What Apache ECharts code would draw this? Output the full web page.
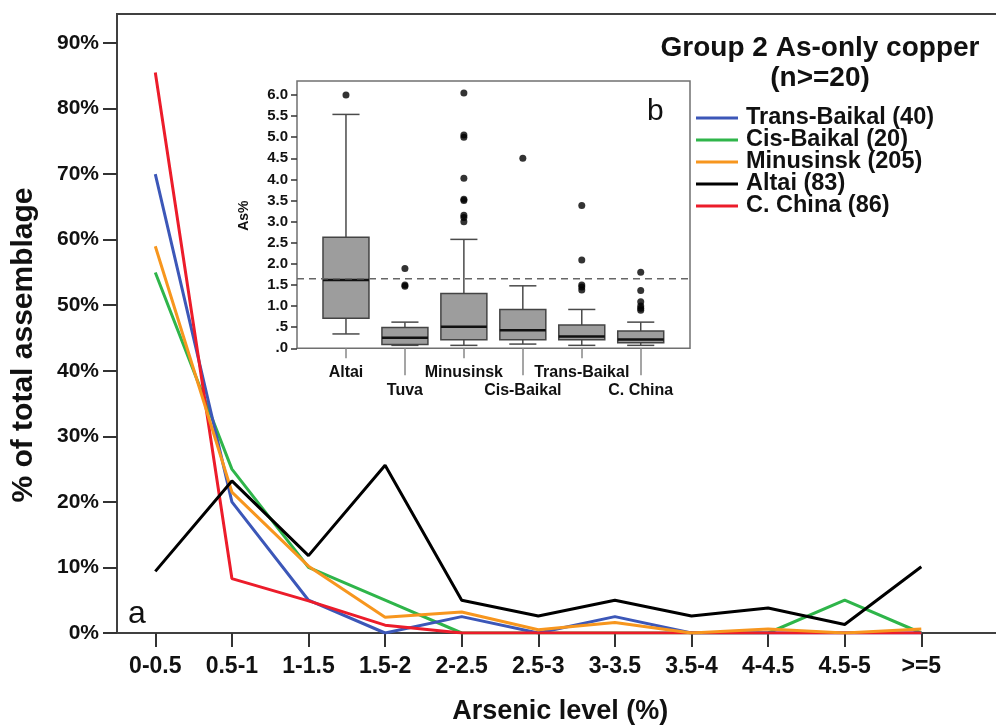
<!DOCTYPE html>
<html><head><meta charset="utf-8">
<script src="https://cdn.jsdelivr.net/npm/echarts@6/dist/echarts.min.js"></script>
<style>html,body{margin:0;padding:0;background:#fff}#c{width:996px;height:726px}</style>
</head><body><div id="c"></div>
<script>
// ---- main chart data (% of total assemblage) ----
const arsenicBins = ['0-0.5','0.5-1','1-1.5','1.5-2','2-2.5','2.5-3','3-3.5','3.5-4','4-4.5','4.5-5','>=5'];
const transBaikal = [70, 20, 5, 0, 2.5, 0, 2.5, 0, 0, 0, 0];
const cisBaikal   = [55, 25, 10, 5, 0, 0, 0, 0, 0, 5, 0];
const minusinsk   = [59.0, 21.5, 10.2, 2.4, 3.2, 0.5, 1.6, 0, 0.6, 0, 0.6];
const altai       = [9.4, 23.2, 11.8, 25.6, 5.0, 2.6, 5.0, 2.6, 3.8, 1.3, 10.1];
const cChina      = [85.5, 8.3, 4.9, 1.2, 0, 0, 0, 0, 0, 0, 0];
const seriesNames = ['Trans-Baikal (40)','Cis-Baikal (20)','Minusinsk (205)','Altai (83)','C. China (86)'];
const yTicksMain  = [0, 10, 20, 30, 40, 50, 60, 70, 80, 90];

// ---- inset box plot data (As%) ----
const boxGroups = ['Altai','Tuva','Minusinsk','Cis-Baikal','Trans-Baikal','C. China'];
const boxLow    = [0.34, 0.07, 0.07, 0.10, 0.07, 0.07];
const boxQ1     = [0.71, 0.09, 0.20, 0.20, 0.20, 0.13];
const boxMedian = [1.62, 0.25, 0.51, 0.43, 0.28, 0.21];
const boxQ3     = [2.63, 0.49, 1.30, 0.92, 0.55, 0.41];
const boxHigh   = [5.54, 0.62, 2.58, 1.48, 0.92, 0.62];
const boxOutliers = [
  [6.0],
  [1.89, 1.5, 1.47],
  [6.05, 5.05, 5.0, 4.03, 3.53, 3.5, 3.15, 3.1, 3.0],
  [4.5],
  [3.38, 2.09, 1.5, 1.45, 1.38],
  [1.8, 1.37, 1.1, 1.0, 0.95, 0.9]
];
const refLevel = 1.65;

const FONT = 'Liberation Sans, Arial, sans-serif';
const boxData = boxGroups.map((g, i) => [i, boxLow[i], boxQ1[i], boxMedian[i], boxQ3[i], boxHigh[i]]);
const outlierData = [];
boxOutliers.forEach((arr, i) => arr.forEach(v => outlierData.push([i, v])));

function renderBox(params, api) {
  const i = api.value(0);
  const pLo = api.coord([i, api.value(1)]);
  const pQ1 = api.coord([i, api.value(2)]);
  const pMed = api.coord([i, api.value(3)]);
  const pQ3 = api.coord([i, api.value(4)]);
  const pHi = api.coord([i, api.value(5)]);
  const band = api.size([1, 0])[0];
  const hw = band * 0.39, cw = band * 0.23, cx = pMed[0];
  const ls = {stroke: '#4a4a4a', lineWidth: 1.5};
  return {type: 'group', children: [
    {type: 'line', shape: {x1: cx, y1: pHi[1], x2: cx, y2: pQ3[1]}, style: ls},
    {type: 'line', shape: {x1: cx, y1: pQ1[1], x2: cx, y2: pLo[1]}, style: ls},
    {type: 'line', shape: {x1: cx - cw, y1: pHi[1], x2: cx + cw, y2: pHi[1]}, style: ls},
    {type: 'line', shape: {x1: cx - cw, y1: pLo[1], x2: cx + cw, y2: pLo[1]}, style: ls},
    {type: 'rect', shape: {x: cx - hw, y: pQ3[1], width: 2 * hw, height: pQ1[1] - pQ3[1]},
      style: {fill: '#9d9d9d', stroke: '#444', lineWidth: 1.5}},
    {type: 'line', shape: {x1: cx - hw, y1: pMed[1], x2: cx + hw, y2: pMed[1]}, style: {stroke: '#111', lineWidth: 2.5}}
  ]};
}

const chart = echarts.init(document.getElementById('c'), null, {renderer: 'canvas'});
const lineColors = {
  'Trans-Baikal (40)': '#3c57b8', 'Cis-Baikal (20)': '#2fb54a', 'Minusinsk (205)': '#f7961e',
  'Altai (83)': '#000000', 'C. China (86)': '#ec1c2a'
};
const seriesValues = {
  'Trans-Baikal (40)': transBaikal, 'Cis-Baikal (20)': cisBaikal, 'Minusinsk (205)': minusinsk,
  'Altai (83)': altai, 'C. China (86)': cChina
};
const drawOrder = ['Cis-Baikal (20)', 'Trans-Baikal (40)', 'C. China (86)', 'Minusinsk (205)', 'Altai (83)'];

const option = {
  backgroundColor: '#fff',
  animation: false,
  textStyle: {fontFamily: FONT},
  grid: [
    {left: 117, top: 14, right: -20, bottom: 93, show: true, borderColor: '#404040', borderWidth: 2, backgroundColor: 'transparent', containLabel: false, outerBoundsMode: 'none'},
    {left: 117, top: 43, right: 36.4, bottom: 93, containLabel: false, outerBoundsMode: 'none'},
    {left: 297, top: 81, right: 306, bottom: 377.7, show: true, borderColor: '#707070', borderWidth: 1.5, backgroundColor: 'transparent', containLabel: false, outerBoundsMode: 'none'},
    {left: 316.5, top: 95, right: 325.8, bottom: 377.7, containLabel: false, outerBoundsMode: 'none'}
  ],
  xAxis: [
    {gridIndex: 0, type: 'value', min: 0, max: 1, show: false},
    {gridIndex: 1, type: 'category', data: arsenicBins, boundaryGap: true,
      axisLine: {show: false},
      axisTick: {show: true, alignWithLabel: true, length: 14, lineStyle: {color: '#333', width: 2}},
      axisLabel: {interval: 0, margin: 22, color: '#111', fontSize: 23, fontWeight: 'bold', fontFamily: FONT},
      name: 'Arsenic level (%)', nameLocation: 'middle', nameGap: 65,
      nameTextStyle: {fontSize: 27, fontWeight: 'bold', color: '#111', fontFamily: FONT, padding: [0, 0, 0, 44]},
      splitLine: {show: false}},
    {gridIndex: 2, type: 'value', min: 0, max: 1, show: false},
    {gridIndex: 3, type: 'category', data: boxGroups, position: 'bottom', boundaryGap: true,
      axisLine: {show: false},
      axisTick: {show: true, alignWithLabel: true, length: 10, interval: (i) => i % 2 === 0, lineStyle: {color: '#888', width: 1.5}},
      axisLabel: {interval: (i) => i % 2 === 0, margin: 16, color: '#111', fontSize: 16, fontWeight: 'bold', fontFamily: FONT},
      splitLine: {show: false}},
    {gridIndex: 3, type: 'category', data: boxGroups, position: 'bottom', offset: 0, boundaryGap: true,
      axisLine: {show: false},
      axisTick: {show: true, alignWithLabel: true, length: 27, interval: (i) => i % 2 === 1, lineStyle: {color: '#888', width: 1.5}},
      axisLabel: {interval: (i) => i % 2 === 1, margin: 34, color: '#111', fontSize: 16, fontWeight: 'bold', fontFamily: FONT},
      splitLine: {show: false}}
  ],
  yAxis: [
    {gridIndex: 0, type: 'value', min: 0, max: 1, show: false},
    {gridIndex: 1, type: 'value', min: yTicksMain[0], max: yTicksMain[yTicksMain.length - 1], interval: 10,
      axisLine: {show: false},
      axisTick: {show: true, length: 14, lineStyle: {color: '#333', width: 2}},
      axisLabel: {formatter: '{value}%', margin: 18, color: '#111', fontSize: 21, fontWeight: 'bold', fontFamily: FONT},
      splitLine: {show: false},
      name: '% of total assemblage', nameLocation: 'middle', nameGap: 78, nameRotate: 90,
      nameTextStyle: {fontSize: 30, fontWeight: 'bold', color: '#111', fontFamily: FONT, padding: [0, 14, 0, 0]}},
    {gridIndex: 2, type: 'value', min: 0, max: 6.332, show: false},
    {gridIndex: 3, type: 'value', min: 0, max: 6, interval: 0.5, offset: 19.5,
      axisLine: {show: false},
      axisTick: {show: true, length: 6, lineStyle: {color: '#333', width: 1.5}},
      axisLabel: {margin: 9, color: '#111', fontSize: 15, fontWeight: 'bold', fontFamily: FONT,
        formatter: (v) => v < 1 ? (v === 0 ? '.0' : '.5') : v.toFixed(1)},
      splitLine: {show: false},
      name: 'As%', nameLocation: 'middle', nameGap: 46, nameRotate: 90,
      nameTextStyle: {fontSize: 14, fontWeight: 'bold', color: '#111', fontFamily: FONT, padding: [0, 0, 0, 12]}}
  ],
  legend: {
    data: seriesNames, orient: 'vertical', left: 691, top: 101,
    icon: 'rect', itemWidth: 42, itemHeight: 3, itemGap: -2, selectedMode: false,
    textStyle: {fontSize: 23.5, fontWeight: 'bold', color: '#111', fontFamily: FONT, lineHeight: 22, padding: [0, 0, 0, 3]}
  },
  graphic: [
    {type: 'text', x: 820, y: 33, style: {text: 'Group 2 As-only copper\n(n>=20)', align: 'center', verticalAlign: 'top',
      font: 'bold 28px ' + FONT, lineHeight: 30, fill: '#111'}},
    {type: 'text', x: 128, y: 614, style: {text: 'a', align: 'left', verticalAlign: 'middle', font: '32px ' + FONT, fill: '#111'}},
    {type: 'text', x: 647, y: 112, style: {text: 'b', align: 'left', verticalAlign: 'middle', font: '30px ' + FONT, fill: '#111'}}
  ],
  series: [
    ...drawOrder.map(n => ({
      name: n, type: 'line', xAxisIndex: 1, yAxisIndex: 1, data: seriesValues[n],
      symbol: 'none', showSymbol: false, lineStyle: {width: 3, color: lineColors[n]}, itemStyle: {color: lineColors[n]},
      emphasis: {disabled: true}
    })),
    {type: 'line', xAxisIndex: 2, yAxisIndex: 2, data: [[0, refLevel], [1, refLevel]], symbol: 'none', silent: true,
      lineStyle: {color: '#666', width: 1.5, type: [7, 5]}},
    {type: 'custom', xAxisIndex: 3, yAxisIndex: 3, data: boxData, renderItem: renderBox,
      encode: {x: 0, y: [1, 2, 3, 4, 5]}, silent: true, clip: false},
    {type: 'scatter', xAxisIndex: 3, yAxisIndex: 3, data: outlierData, symbol: 'circle', symbolSize: 7,
      itemStyle: {color: '#000'}, clip: false, silent: true}
  ]
};
chart.setOption(option);
</script>
</body></html>
